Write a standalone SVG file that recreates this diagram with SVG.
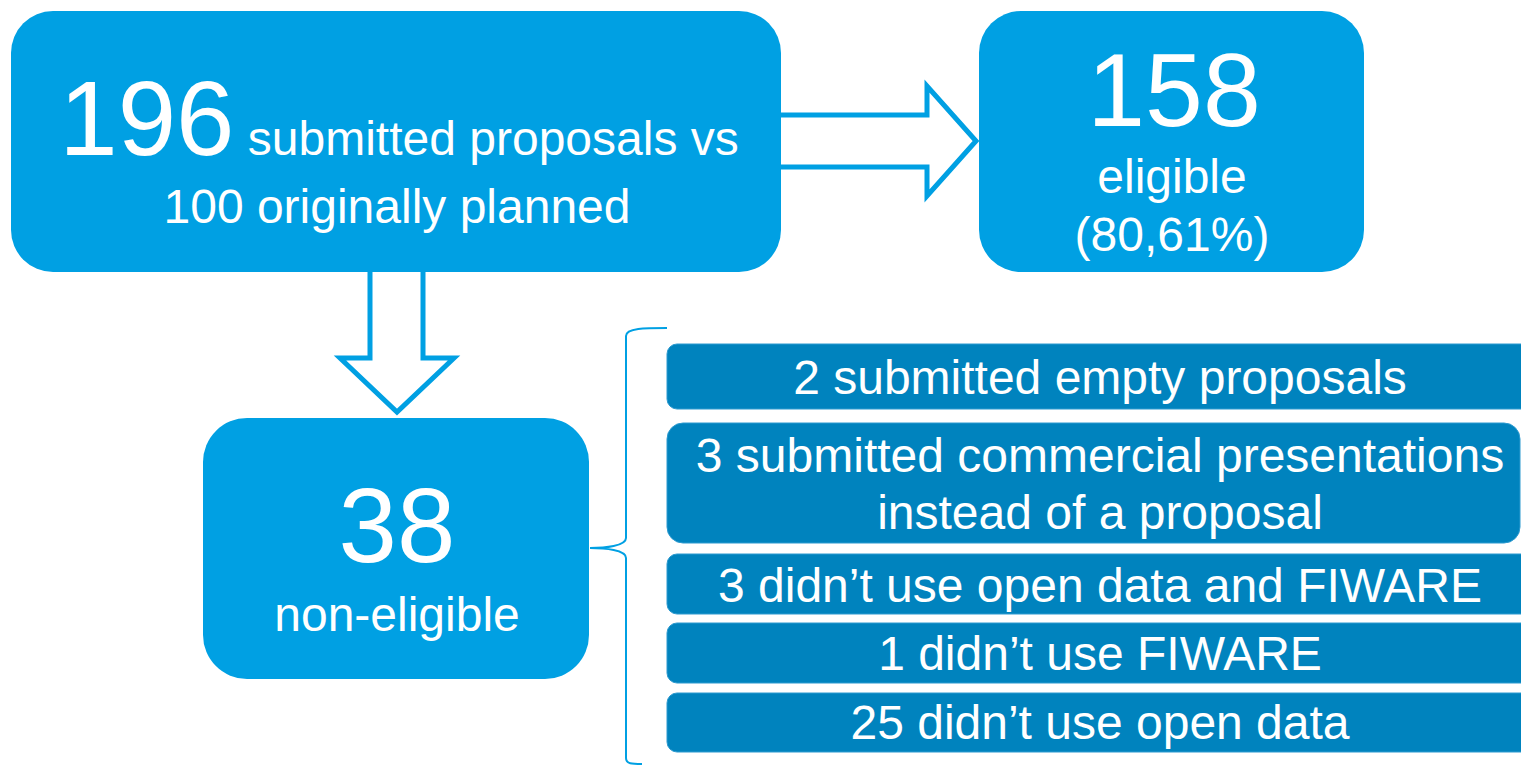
<svg xmlns="http://www.w3.org/2000/svg" width="1521" height="766" viewBox="0 0 1521 766">
<style>
.main{fill:#00A0E3}
.sub{fill:#0083BE;stroke:#2C9AD0;stroke-width:1}
.t{font-family:"Liberation Sans",Arial,sans-serif;fill:#fff;text-anchor:middle}
.arr{fill:#fff;stroke:#00A0E3;stroke-width:5;stroke-linejoin:miter}
.brace{fill:none;stroke:#00A0E3;stroke-width:2}
</style>
<rect width="1521" height="766" fill="#fff"/>
<g id="connectors">
<path class="arr" d="M781,115 H927 V86 L976,141 L927,196 V167 H781"/>
<path class="arr" d="M370,272 V358 H340 L397,412 L454,358 H423 V272"/>
<path class="brace" d="M667,328 C645,328 626,328 626,336 V538 C626,546 605,548 590,548 C605,548 626,550 626,558 V758 C626,764 632,764 642,764"/>
</g>
<g id="submitted">
<rect class="main" x="11" y="11" width="770" height="261" rx="42"/>
<text class="t" x="399" y="155" font-size="48"><tspan font-size="105">196</tspan> submitted proposals vs</text>
<text class="t" x="397" y="223" font-size="48">100 originally planned</text>
</g>
<g id="eligible">
<rect class="main" x="979" y="11" width="385" height="261" rx="42"/>
<text class="t" x="1174" y="126" font-size="104">158</text>
<text class="t" x="1172" y="193" font-size="48">eligible</text>
<text class="t" x="1172" y="251" font-size="48">(80,61%)</text>
</g>
<g id="noneligible">
<rect class="main" x="203" y="418" width="386" height="261" rx="44"/>
<text class="t" x="397" y="562" font-size="105">38</text>
<text class="t" x="397" y="631" font-size="48">non-eligible</text>
</g>
<g id="r1">
<rect class="sub" x="667" y="344" width="880" height="65" rx="10"/>
<text class="t" x="1100" y="394" font-size="48">2 submitted empty proposals</text>
</g>
<g id="r2">
<rect class="sub" x="667" y="423" width="853" height="120" rx="16"/>
<text class="t" x="1100" y="472" font-size="48">3 submitted commercial presentations</text>
<text class="t" x="1100" y="529" font-size="48">instead of a proposal</text>
</g>
<g id="r3">
<rect class="sub" x="667" y="554" width="880" height="60" rx="10"/>
<text class="t" x="1100" y="602" font-size="48">3 didn’t use open data and FIWARE</text>
</g>
<g id="r4">
<rect class="sub" x="667" y="623" width="880" height="60" rx="10"/>
<text class="t" x="1100" y="670" font-size="48">1 didn’t use FIWARE</text>
</g>
<g id="r5">
<rect class="sub" x="667" y="693" width="880" height="59" rx="10"/>
<text class="t" x="1100" y="739" font-size="48">25 didn’t use open data</text>
</g>
</svg>
